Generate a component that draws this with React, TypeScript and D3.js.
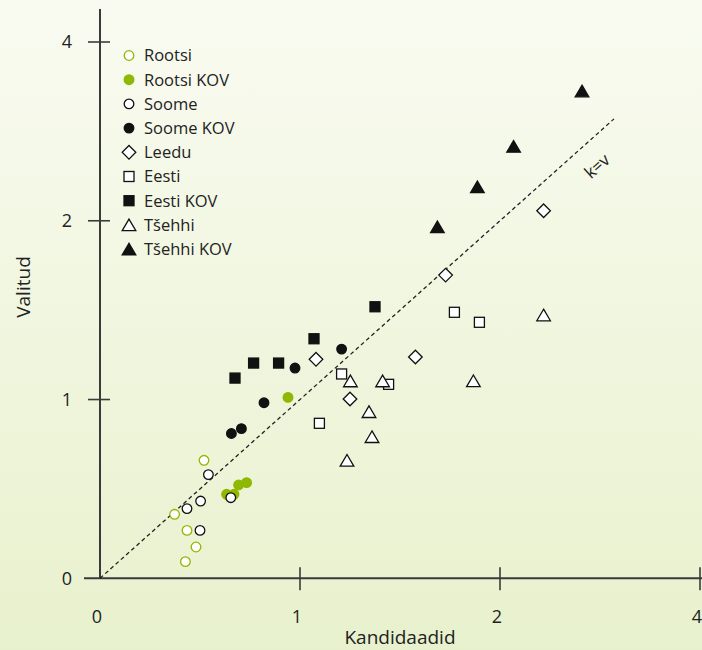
import React from "react";
import * as d3 from "d3";

const W = 702;
const H = 650;

const tickValues = [0, 1, 2, 3];
const tickLabels = ["0", "1", "2", "4"];

const seriesNames = [
  "Rootsi",
  "Rootsi KOV",
  "Soome",
  "Soome KOV",
  "Leedu",
  "Eesti",
  "Eesti KOV",
  "Tšehhi",
  "Tšehhi KOV",
];

const rootsi: [number, number][] = [
  [0.52, 0.66],
  [0.373, 0.358],
  [0.435, 0.268],
  [0.48, 0.175],
  [0.427, 0.093],
];
const rootsiKov: [number, number][] = [
  [0.94, 1.012],
  [0.633, 0.47],
  [0.67, 0.47],
  [0.693, 0.522],
  [0.733, 0.535],
];
const soome: [number, number][] = [
  [0.542, 0.58],
  [0.503, 0.432],
  [0.435, 0.39],
  [0.5, 0.268],
  [0.654, 0.451],
];
const soomeKov: [number, number][] = [
  [0.657, 0.81],
  [0.707, 0.837],
  [0.82, 0.982],
  [0.975, 1.176],
  [1.208, 1.282],
];
const leedu: [number, number][] = [
  [1.08, 1.225],
  [1.25, 1.003],
  [1.577, 1.238],
  [1.728, 1.696],
  [2.218, 2.056],
];
const eesti: [number, number][] = [
  [1.208, 1.143],
  [1.443, 1.085],
  [1.097, 0.867],
  [1.772, 1.488],
  [1.897, 1.432],
];
const eestiKov: [number, number][] = [
  [0.675, 1.12],
  [0.768, 1.204],
  [0.893, 1.204],
  [1.07, 1.34],
  [1.375, 1.519],
];
const tsehhi: [number, number][] = [
  [1.252, 1.104],
  [1.413, 1.104],
  [1.345, 0.932],
  [1.36, 0.792],
  [1.235, 0.66],
  [1.867, 1.105],
  [2.218, 1.473],
];
const tsehhiKov: [number, number][] = [
  [1.687, 1.966],
  [1.887, 2.19],
  [2.068, 2.416],
  [2.41, 2.726],
];

const diagonalEnd = 2.57;

const GREEN = "#8fb800";
const DARK = "#111";
const AXIS = "#3a3a3a";
const FONT = "'Open Sans', 'Noto Sans', sans-serif";

type Shape = "circle" | "square" | "diamond" | "triangle";
type Style = { shape: Shape; fill: string; stroke: string };

const styles: Style[] = [
  { shape: "circle", fill: "#fff", stroke: GREEN },
  { shape: "circle", fill: GREEN, stroke: GREEN },
  { shape: "circle", fill: "#fff", stroke: DARK },
  { shape: "circle", fill: DARK, stroke: DARK },
  { shape: "diamond", fill: "#fff", stroke: DARK },
  { shape: "square", fill: "#fff", stroke: DARK },
  { shape: "square", fill: DARK, stroke: DARK },
  { shape: "triangle", fill: "#fff", stroke: DARK },
  { shape: "triangle", fill: DARK, stroke: DARK },
];

const allSeries = [rootsi, rootsiKov, soome, soomeKov, leedu, eesti, eestiKov, tsehhi, tsehhiKov];

function Marker({ s, x, y }: { s: Style; x: number; y: number }) {
  const sw = 1.3;
  if (s.shape === "circle") {
    return <circle cx={x} cy={y} r={4.8} fill={s.fill} stroke={s.stroke} strokeWidth={sw} />;
  }
  if (s.shape === "square") {
    return <rect x={x - 5} y={y - 5} width={10} height={10} fill={s.fill} stroke={s.stroke} strokeWidth={sw} />;
  }
  if (s.shape === "diamond") {
    const r = 6.8;
    return (
      <path
        d={`M${x},${y - r}L${x + r},${y}L${x},${y + r}L${x - r},${y}Z`}
        fill={s.fill}
        stroke={s.stroke}
        strokeWidth={sw}
      />
    );
  }
  const hw = 6.8;
  const hh = 5.8;
  return (
    <path
      d={`M${x},${y - hh}L${x + hw},${y + hh}L${x - hw},${y + hh}Z`}
      fill={s.fill}
      stroke={s.stroke}
      strokeWidth={sw}
      strokeLinejoin="miter"
    />
  );
}

export default function App() {
  const x = d3.scaleLinear().domain([0, 3]).range([100, 700]);
  const y = d3.scaleLinear().domain([0, 3]).range([578.3, 42]);
  const line = d3.line<[number, number]>().x((d) => x(d[0])).y((d) => y(d[1]));
  const angle = (Math.atan2(y(0) - y(1), x(1) - x(0)) * 180) / Math.PI;

  return (
    <svg
      width={W}
      height={H}
      style={{ position: "absolute", left: 0, top: 0, display: "block" }}
      fontFamily={FONT}
    >
      <defs>
        <linearGradient id="bg" x1="0" y1="0" x2="0" y2="1">
          <stop offset="0" stopColor="#f9fbf1" />
          <stop offset="1" stopColor="#e8f1cd" />
        </linearGradient>
      </defs>
      <rect x={0} y={0} width={W} height={H} fill="url(#bg)" />

      {/* axes */}
      <line x1={x(0)} x2={x(0)} y1={9} y2={y(0)} stroke={AXIS} strokeWidth={2} />
      <line x1={84} x2={W} y1={y(0)} y2={y(0)} stroke={AXIS} strokeWidth={2} />
      {tickValues.map((v, i) => (
        <g key={"yt" + i}>
          {v > 0 && <line x1={x(0) - 12} x2={x(0) + 10} y1={y(v)} y2={y(v)} stroke={AXIS} strokeWidth={1.6} />}
          <text x={67} y={y(v)} dy="0.36em" textAnchor="middle" fontSize={18} fill="#222">
            {tickLabels[i]}
          </text>
        </g>
      ))}
      {tickValues.map((v, i) => (
        <g key={"xt" + i}>
          {v > 0 && <line x1={x(v)} x2={x(v)} y1={y(0) - 11} y2={y(0) + 12} stroke={AXIS} strokeWidth={1.6} />}
          <text x={x(v) - 3} y={617} dy="0.36em" textAnchor="middle" fontSize={18} fill="#222">
            {tickLabels[i]}
          </text>
        </g>
      ))}
      <text x={400} y={637} dy="0.36em" textAnchor="middle" fontSize={19} fill="#222">
        Kandidaadid
      </text>
      <text
        transform={`translate(23,287) rotate(-90)`}
        dy="0.36em"
        textAnchor="middle"
        fontSize={19}
        fill="#222"
      >
        Valitud
      </text>

      {/* k = v line */}
      <path
        d={line([
          [0, 0],
          [diagonalEnd, diagonalEnd],
        ]) as string}
        fill="none"
        stroke="#222"
        strokeWidth={1.3}
        strokeDasharray="4,3"
      />
      <text
        transform={`translate(597,166) rotate(${-angle})`}
        dy="0.36em"
        textAnchor="middle"
        fontSize={17}
        fill="#222"
      >
        k=v
      </text>

      {/* points */}
      {allSeries.map((ser, si) =>
        ser.map((d, i) => <Marker key={si + "-" + i} s={styles[si]} x={x(d[0])} y={y(d[1])} />)
      )}

      {/* legend */}
      {seriesNames.map((name, i) => {
        const ly = 55.5 + i * 24.2;
        return (
          <g key={"lg" + i}>
            <Marker s={styles[i]} x={129} y={ly} />
            <text x={144} y={ly} dy="0.36em" fontSize={16.5} fill="#222">
              {name}
            </text>
          </g>
        );
      })}
    </svg>
  );
}
